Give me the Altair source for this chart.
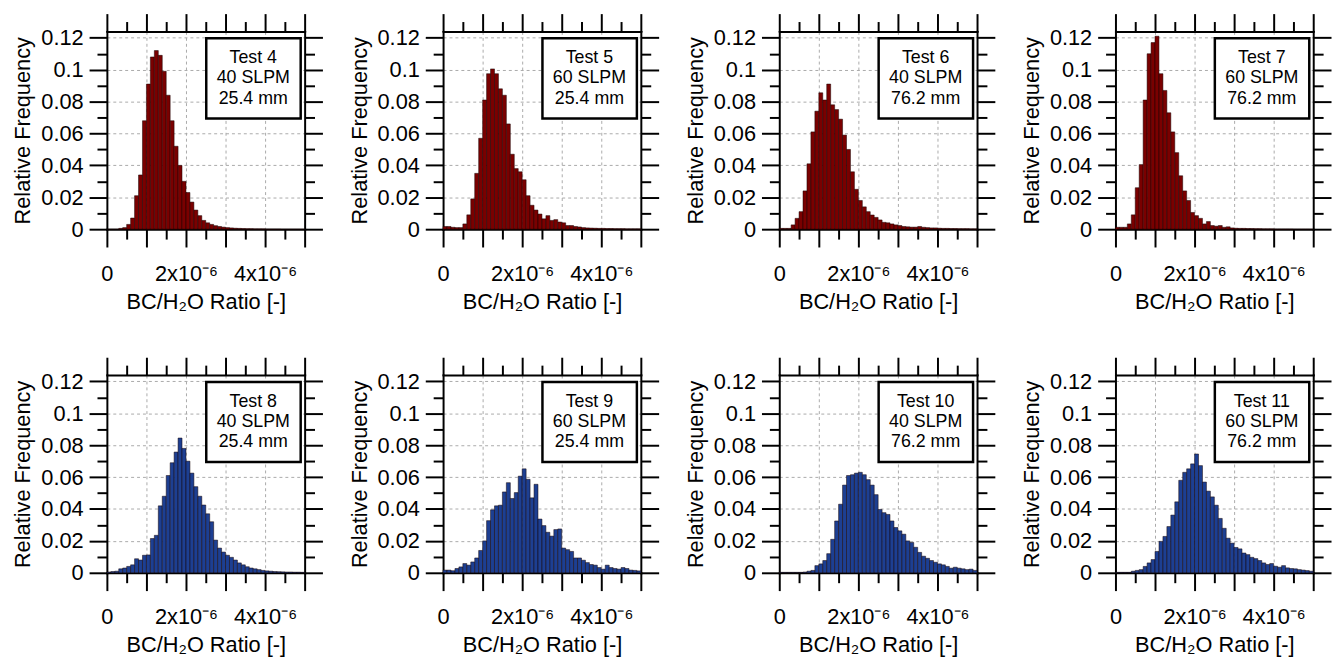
import altair as alt
import pandas as pd

# ---------------- data (x in units of 1e-6) ----------------
BIN_LEFT = [0.0, 0.1, 0.2, 0.3, 0.4, 0.5, 0.6, 0.7, 0.8, 0.9,
            1.0, 1.1, 1.2, 1.3, 1.4, 1.5, 1.6, 1.7, 1.8, 1.9,
            2.0, 2.1, 2.2, 2.3, 2.4, 2.5, 2.6, 2.7, 2.8, 2.9,
            3.0, 3.1, 3.2, 3.3, 3.4, 3.5, 3.6, 3.7, 3.8, 3.9,
            4.0, 4.1, 4.2, 4.3, 4.4, 4.5, 4.6, 4.7, 4.8, 4.9]
BIN_RIGHT = [0.1, 0.2, 0.3, 0.4, 0.5, 0.6, 0.7, 0.8, 0.9, 1.0,
             1.1, 1.2, 1.3, 1.4, 1.5, 1.6, 1.7, 1.8, 1.9, 2.0,
             2.1, 2.2, 2.3, 2.4, 2.5, 2.6, 2.7, 2.8, 2.9, 3.0,
             3.1, 3.2, 3.3, 3.4, 3.5, 3.6, 3.7, 3.8, 3.9, 4.0,
             4.1, 4.2, 4.3, 4.4, 4.5, 4.6, 4.7, 4.8, 4.9, 5.0]

TESTS = ["Test 4", "Test 5", "Test 6", "Test 7", "Test 8", "Test 9", "Test 10", "Test 11"]
FLOWS = ["40 SLPM", "60 SLPM", "40 SLPM", "60 SLPM", "40 SLPM", "60 SLPM", "40 SLPM", "60 SLPM"]
DIAMS = ["25.4 mm", "25.4 mm", "76.2 mm", "76.2 mm", "25.4 mm", "25.4 mm", "76.2 mm", "76.2 mm"]

FREQ_T4 = [0, 0, 0, 0.0005, 0.001, 0.003, 0.007, 0.021, 0.034, 0.068,
           0.091, 0.108, 0.112, 0.109, 0.099, 0.084, 0.068, 0.052, 0.040, 0.030,
           0.023, 0.017, 0.012, 0.0085, 0.0055, 0.004, 0.003, 0.0022, 0.0017, 0.0013,
           0.001, 0.0008, 0.0006, 0.0005, 0.0004, 0.0003, 0.0003, 0.0002, 0.0002, 0.0002,
           0.0001, 0.0001, 0.0001, 0.0001, 0, 0, 0, 0, 0, 0]
FREQ_T5 = [0.0017, 0.0017, 0.0012, 0.001, 0.001, 0.0033, 0.009, 0.019, 0.035, 0.057,
           0.081, 0.0975, 0.1005, 0.0975, 0.088, 0.084, 0.066, 0.047, 0.038, 0.036,
           0.031, 0.021, 0.015, 0.012, 0.0095, 0.0065, 0.0085, 0.0055, 0.006, 0.0045,
           0.004, 0.0023, 0.0023, 0.0017, 0.0014, 0.001, 0.0008, 0.0007, 0.0006, 0.0005,
           0.0005, 0.0004, 0.0004, 0.0003, 0.0003, 0.0003, 0.0002, 0.0002, 0.0002, 0.0002]
FREQ_T6 = [0.0005, 0.0005, 0.0005, 0.0027, 0.0068, 0.011, 0.024, 0.041, 0.061, 0.074,
           0.0855, 0.081, 0.091, 0.078, 0.075, 0.069, 0.059, 0.050, 0.036, 0.025,
           0.018, 0.014, 0.011, 0.0089, 0.0074, 0.0058, 0.0043, 0.004, 0.0033, 0.0027,
           0.0023, 0.0017, 0.0015, 0.0013, 0.0013, 0.0017, 0.0012, 0.001, 0.0008, 0.0008,
           0.0006, 0.0005, 0.0005, 0.0004, 0.0004, 0.0003, 0.0003, 0.0003, 0.0002, 0.0002]
FREQ_T7 = [0.0012, 0.0012, 0.0012, 0.0033, 0.009, 0.026, 0.0405, 0.081, 0.110, 0.117,
           0.121, 0.0975, 0.087, 0.073, 0.061, 0.048, 0.0335, 0.024, 0.018, 0.0105,
           0.0085, 0.0068, 0.0033, 0.0048, 0.0023, 0.0019, 0.0023, 0.0012, 0.0015, 0.0008,
           0.0006, 0.0005, 0.0005, 0.0004, 0.0004, 0.0003, 0.0003, 0.0002, 0.0002, 0.0002,
           0.0001, 0.0001, 0.0001, 0.0001, 0.0001, 0, 0, 0, 0, 0]
FREQ_T8 = [0.0005, 0.0008, 0.001, 0.0025, 0.003, 0.004, 0.005, 0.0088, 0.008, 0.011,
           0.0112, 0.0215, 0.0235, 0.042, 0.048, 0.061, 0.069, 0.0757, 0.0845, 0.078,
           0.070, 0.0625, 0.054, 0.048, 0.0425, 0.037, 0.032, 0.0205, 0.0155, 0.013,
           0.011, 0.0097, 0.008, 0.0062, 0.005, 0.0038, 0.003, 0.0025, 0.002, 0.0015,
           0.0012, 0.001, 0.0008, 0.0007, 0.0006, 0.0005, 0.0005, 0.0004, 0.0004, 0.0003]
FREQ_T9 = [0.0017, 0.0017, 0.0013, 0.0027, 0.0037, 0.0058, 0.0048, 0.0068, 0.0093, 0.014,
           0.020, 0.0327, 0.0395, 0.042, 0.0424, 0.0507, 0.0565, 0.0466, 0.0503, 0.0606,
           0.0652, 0.0586, 0.047, 0.0555, 0.0337, 0.0296, 0.0254, 0.023, 0.0271, 0.0275,
           0.0155, 0.0145, 0.0134, 0.0093, 0.0093, 0.0079, 0.0064, 0.0052, 0.0048, 0.0033,
           0.0023, 0.0048, 0.0033, 0.0027, 0.0023, 0.0033, 0.0027, 0.0017, 0.0015, 0.0012]
FREQ_T10 = [0.0003, 0.0003, 0.0003, 0.0003, 0.0003, 0.0003, 0.0005, 0.001, 0.0015, 0.0045,
            0.0056, 0.0077, 0.012, 0.021, 0.0325, 0.043, 0.055, 0.061, 0.0615, 0.0625,
            0.063, 0.0615, 0.0584, 0.055, 0.049, 0.0397, 0.0377, 0.0366, 0.0325, 0.0284,
            0.0263, 0.0242, 0.020, 0.019, 0.016, 0.0128, 0.0104, 0.0091, 0.0077, 0.0066,
            0.0056, 0.005, 0.004, 0.0029, 0.0035, 0.0029, 0.0025, 0.002, 0.0023, 0.0015]
FREQ_T11 = [0.0003, 0.0003, 0.0003, 0.0003, 0.001, 0.0015, 0.002, 0.004, 0.0062, 0.0083,
            0.0134, 0.0197, 0.0228, 0.029, 0.0362, 0.0445, 0.058, 0.063, 0.0652, 0.0683,
            0.0745, 0.0672, 0.0569, 0.0512, 0.0476, 0.0424, 0.0341, 0.0279, 0.0217, 0.0186,
            0.0159, 0.015, 0.0124, 0.0114, 0.0097, 0.0089, 0.0077, 0.0062, 0.0052, 0.0058,
            0.0041, 0.0035, 0.0045, 0.0031, 0.0027, 0.0025, 0.002, 0.0017, 0.0014, 0.001]

FREQS = [FREQ_T4, FREQ_T5, FREQ_T6, FREQ_T7, FREQ_T8, FREQ_T9, FREQ_T10, FREQ_T11]
ROW_COLORS = ["#7a0000", "#1d3f92"]

X_TICKS = [0, 0.5, 1, 1.5, 2, 2.5, 3, 3.5, 4, 4.5, 5]
Y_TICKS = [0, 0.01, 0.02, 0.03, 0.04, 0.05, 0.06, 0.07, 0.08, 0.09, 0.10, 0.11, 0.12]
X_LABEL_EXPR = "datum.value == 0 ? '0' : datum.value == 2 ? '2x10\u207b\u2076' : datum.value == 4 ? '4x10\u207b\u2076' : ''"
Y_LABEL_EXPR = "round(datum.value * 100) % 2 == 0 ? format(datum.value, '.2~f') : ''"

X_MAJOR = "datum.value % 1 == 0"
Y_MAJOR = "round(datum.value * 100) % 2 == 0"

PW, PH = 200, 200
FONT = "Liberation Sans"


def tick_size(test):
    return {"condition": {"test": test, "value": 18}, "value": 10}


def panel(i):
    color = ROW_COLORS[i // 4]
    df = pd.DataFrame({"lo": BIN_LEFT, "hi": BIN_RIGHT, "freq": FREQS[i]})
    xs = alt.Scale(domain=[0, 5], nice=False, zero=False, padding=0)
    ys = alt.Scale(domain=[0, 0.124], nice=False, padding=0)

    x_bottom = alt.Axis(orient="bottom", values=X_TICKS, labelExpr=X_LABEL_EXPR,
                        tickSize=tick_size(X_MAJOR), labelOverlap=False, labelFlush=False,
                        labelPadding=16.5, labelFontSize=22, labelColor="black", labelFont=FONT,
                        title="BC/H\u2082O Ratio [-]", titleFontSize=22, titleFontWeight="normal",
                        titleColor="black", titleFont=FONT, titlePadding=7.5,
                        grid=True, gridColor="#aaaaaa", gridDash=[3, 3], gridWidth=1,
                        gridOpacity={"condition": {"test": "datum.value % 1 == 0 && datum.value > 0 && datum.value < 5", "value": 1}, "value": 0},
                        domain=True, domainColor="black", domainWidth=2, domainCap="square",
                        tickColor="black", tickWidth=2)
    y_left = alt.Axis(orient="left", values=Y_TICKS, labelExpr=Y_LABEL_EXPR,
                      tickSize=tick_size(Y_MAJOR), labelOverlap=False, labelFlush=False,
                      labelPadding=6, labelFontSize=22, labelColor="black", labelFont=FONT,
                      title="Relative Frequency", titleFontSize=22, titleFontWeight="normal",
                      titleColor="black", titleFont=FONT, titlePadding=6,
                      grid=True, gridColor="#aaaaaa", gridDash=[3, 3], gridWidth=1,
                      gridOpacity={"condition": {"test": "round(datum.value * 100) % 2 == 0 && datum.value > 0", "value": 1}, "value": 0},
                      domain=True, domainColor="black", domainWidth=2, domainCap="square",
                      tickColor="black", tickWidth=2)
    x_top = alt.Axis(orient="top", values=X_TICKS, labels=False, title=None, grid=False,
                     tickSize=tick_size(X_MAJOR), domain=True, domainColor="black",
                     domainWidth=2, domainCap="square", tickColor="black", tickWidth=2)
    y_right = alt.Axis(orient="right", values=Y_TICKS, labels=False, title=None, grid=False,
                       tickSize=tick_size(Y_MAJOR), domain=True, domainColor="black",
                       domainWidth=2, domainCap="square", tickColor="black", tickWidth=2)

    bars = alt.Chart(df).mark_bar(fill=color, stroke="#140000", strokeWidth=0.5,
                                  orient="vertical").encode(
        x=alt.X("lo:Q", scale=xs, axis=x_bottom),
        x2="hi:Q",
        y=alt.Y("freq:Q", scale=ys, axis=y_left),
        y2=alt.datum(0),
    )
    frame_axes = alt.Chart(df).mark_point(opacity=0, size=1).encode(
        x=alt.X("lo:Q", scale=xs, axis=x_top),
        y=alt.Y("freq:Q", scale=ys, axis=y_right),
    )
    label_df = pd.DataFrame({"t": [TESTS[i] + "\n" + FLOWS[i] + "\n" + DIAMS[i]]})
    box = alt.Chart(label_df).mark_rect(fill="white", stroke="black", strokeWidth=2.5).encode(
        x=alt.value(100.5), x2=alt.value(196), y=alt.value(7), y2=alt.value(88)
    )
    txt = alt.Chart(label_df).mark_text(
        fontSize=18, font=FONT, color="black", align="center", baseline="middle",
        lineBreak="\n", lineHeight=20.6
    ).encode(x=alt.value(148), y=alt.value(27), text="t:N")

    return alt.layer(bars, frame_axes, box, txt).resolve_axis(
        x="independent", y="independent"
    ).properties(width=PW, height=PH)


chart = alt.concat(
    *[panel(i) for i in range(8)],
    columns=4,
    spacing={"row": 147.5, "column": 140},
    bounds="flush",
).properties(
    padding={"left": 3, "top": 0, "right": 0, "bottom": 0}
).configure_view(stroke=None).configure(font=FONT)

chart.save("out.html", embed_options={"renderer": "svg", "actions": False})
